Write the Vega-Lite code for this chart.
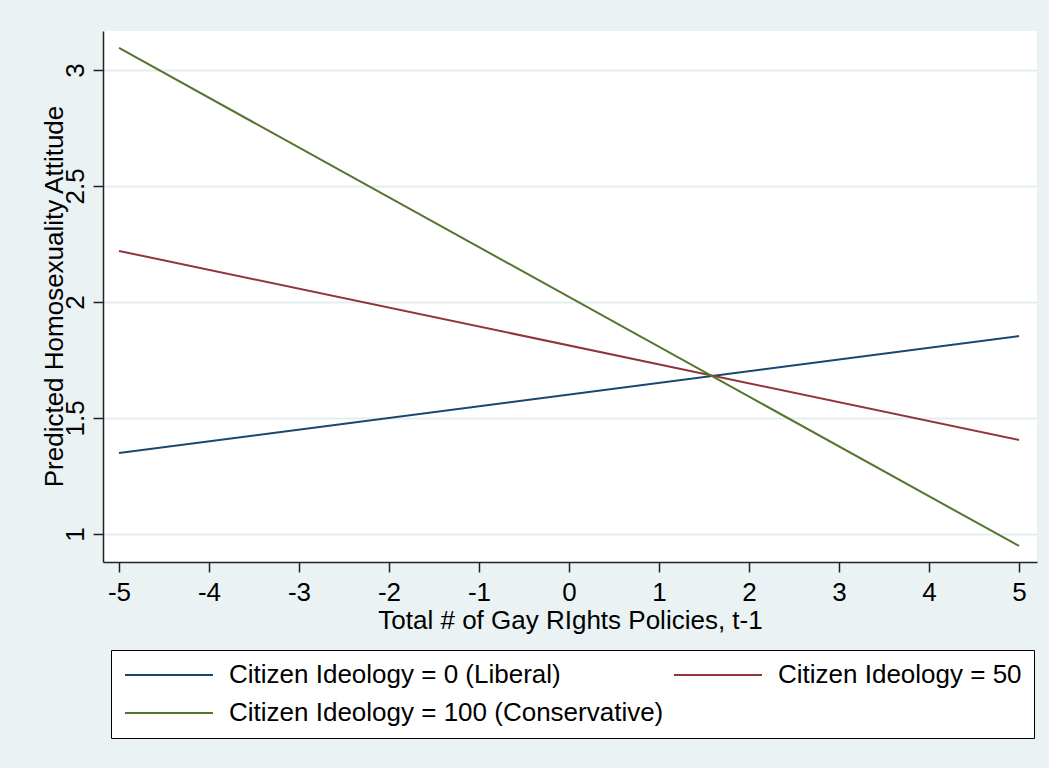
{
  "$schema": "https://vega.github.io/schema/vega-lite/v6.json",
  "width": 934,
  "height": 531,
  "autosize": {"type": "none"},
  "padding": {"left": 103, "top": 31, "right": 12, "bottom": 206},
  "background": "#EAF2F3",
  "config": {
    "font": "Liberation Sans",
    "view": {"fill": "white", "stroke": null}
  },
  "data": {
    "values": [
      {"policies": -5, "attitude": 1.349, "series": "Citizen Ideology = 0 (Liberal)"},
      {"policies": 5, "attitude": 1.853, "series": "Citizen Ideology = 0 (Liberal)"},
      {"policies": -5, "attitude": 2.220, "series": "Citizen Ideology = 50"},
      {"policies": 5, "attitude": 1.405, "series": "Citizen Ideology = 50"},
      {"policies": -5, "attitude": 3.095, "series": "Citizen Ideology = 100 (Conservative)"},
      {"policies": 5, "attitude": 0.948, "series": "Citizen Ideology = 100 (Conservative)"}
    ]
  },
  "mark": {"type": "line", "strokeWidth": 2},
  "encoding": {
    "x": {
      "field": "policies",
      "type": "quantitative",
      "title": "Total # of Gay RIghts Policies, t-1",
      "scale": {"domain": [-5.178, 5.2], "nice": false, "zero": false},
      "axis": {
        "values": [-5, -4, -3, -2, -1, 0, 1, 2, 3, 4, 5],
        "labelExpr": "toString(datum.value)",
        "grid": false,
        "domainColor": "#222",
        "domainWidth": 1.5,
        "tickColor": "#222",
        "tickWidth": 1.5,
        "tickSize": 10,
        "labelFontSize": 26,
        "labelColor": "black",
        "labelPadding": 7,
        "labelFlush": false,
        "titleFontSize": 26,
        "titleFontWeight": "normal",
        "titleColor": "black",
        "titleBaseline": "middle",
        "titleY": 58
      }
    },
    "y": {
      "field": "attitude",
      "type": "quantitative",
      "title": "Predicted Homosexuality Attitude",
      "scale": {"domain": [0.879, 3.168], "nice": false, "zero": false},
      "axis": {
        "values": [1, 1.5, 2, 2.5, 3],
        "labelExpr": "toString(datum.value)",
        "grid": true,
        "gridColor": "#E3EDF0",
        "gridWidth": 2,
        "domainColor": "#222",
        "domainWidth": 1.5,
        "tickColor": "#222",
        "tickWidth": 1.5,
        "tickSize": 10,
        "labelFontSize": 26,
        "labelColor": "black",
        "labelAngle": 270,
        "labelAlign": "center",
        "labelBaseline": "alphabetic",
        "labelPadding": 10,
        "labelFlush": false,
        "titleFontSize": 26,
        "titleFontWeight": "normal",
        "titleColor": "black",
        "titleAngle": 270,
        "titleAlign": "center",
        "titleBaseline": "alphabetic",
        "titleX": -41,
        "titleY": 265
      }
    },
    "color": {
      "field": "series",
      "type": "nominal",
      "sort": ["Citizen Ideology = 0 (Liberal)", "Citizen Ideology = 50", "Citizen Ideology = 100 (Conservative)"],
      "scale": {
        "domain": ["Citizen Ideology = 0 (Liberal)", "Citizen Ideology = 50", "Citizen Ideology = 100 (Conservative)"],
        "range": ["#1A476F", "#90353B", "#55752F"]
      },
      "legend": {
        "title": null,
        "orient": "none",
        "legendX": 8,
        "legendY": 619,
        "direction": "horizontal",
        "columns": 2,
        "columnPadding": 6,
        "rowPadding": 12,
        "padding": 12,
        "fillColor": "white",
        "strokeColor": "black",
        "labelFontSize": 26,
        "labelColor": "black",
        "labelLimit": 700,
        "symbolType": "M-1,0H7",
        "symbolSize": 484,
        "symbolStrokeWidth": 2,
        "labelOffset": 80
      }
    }
  }
}
